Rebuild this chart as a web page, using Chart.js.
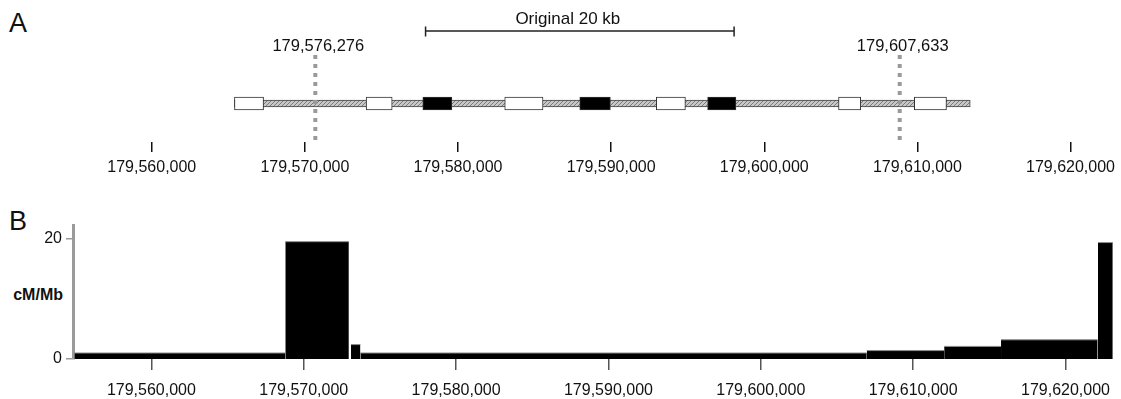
<!DOCTYPE html>
<html>
<head>
<meta charset="utf-8">
<script src="https://cdn.jsdelivr.net/npm/chart.js@4.4.1/dist/chart.umd.min.js"></script>
<style>
  body { margin: 0; background: #fff; }
  #wrap { position: relative; width: 1121px; height: 399px; overflow: hidden;
          font-family: "Liberation Sans", Arial, sans-serif; color: #111; }
  #wrap canvas { position: absolute; left: 0; }
  .panel { position: absolute; left: 9px; font-size: 27px; line-height: 1; }
  #ylab { position: absolute; left: 0; width: 63px; top: 287px; text-align: right;
          font-size: 16px; font-weight: bold; line-height: 1; }
</style>
</head>
<body>
<div id="wrap">
  <div class="panel" style="top:10px">A</div>
  <div class="panel" style="top:208px">B</div>
  <div id="ylab">cM/Mb</div>
  <canvas id="gene" width="1121" height="190" style="top:0"></canvas>
  <canvas id="rate" width="1121" height="199" style="top:200px"></canvas>
</div>
<script>
// shared genomic axis (bp)
var xMin = 179554855;
var xMax = 179623106;
var tickValues = [179560000, 179570000, 179580000, 179590000, 179600000, 179610000, 179620000];

// panel A: gene model
var geneSpan = [179565400, 179613450];
var exonStarts = [179565400, 179574000, 179577700, 179583050, 179587950, 179592950, 179596300, 179604850, 179609800];
var exonEnds   = [179567300, 179575700, 179579600, 179585550, 179589950, 179594850, 179598150, 179606300, 179611900];
var exonCoding = [false, false, true, false, true, false, true, false, false];
var markerPositions = [179570680, 179608845];
var markerLabels = ["179,576,276", "179,607,633"];
var originalRegion = [179577880, 179598030];
var originalLabel = "Original 20 kb";

// panel B: recombination rate (cM/Mb)
var binStarts = [179554950, 179568790, 179573100, 179573720, 179606955, 179612035, 179615767, 179622130];
var binEnds   = [179568790, 179572960, 179573720, 179606955, 179612035, 179615767, 179622110, 179623106];
var rates     = [1.0, 19.55, 2.4, 1.0, 1.4, 2.1, 3.2, 19.4];
var rateTicks = [0, 20];

function fmt(v) { return Number(v).toLocaleString('en-US'); }
function fixedTicks(values) {
    return function (scale) { scale.ticks = values.map(function (v) { return { value: v }; }); };
}

// hatched fill for the intron band
var hatch = document.createElement('canvas');
hatch.width = 4; hatch.height = 4;
var hc = hatch.getContext('2d');
hc.fillStyle = '#c8c8c8'; hc.fillRect(0, 0, 4, 4);
hc.strokeStyle = '#7a7a7a'; hc.lineWidth = 1;
hc.beginPath(); hc.moveTo(0, 4); hc.lineTo(4, 0); hc.stroke();
var geneCanvas = document.getElementById('gene');
var intronPattern = geneCanvas.getContext('2d').createPattern(hatch, 'repeat');

var geneDatasets = exonStarts.map(function (s, i) {
    return {
        data: [[s, exonEnds[i]]],
        backgroundColor: exonCoding[i] ? '#000' : '#fff',
        borderColor: '#333',
        borderWidth: 1,
        borderSkipped: false,
        barThickness: 13,
        grouped: false,
        order: 0
    };
});
geneDatasets.push({
    data: [geneSpan],
    backgroundColor: intronPattern,
    borderColor: '#444',
    borderWidth: 1,
    borderSkipped: false,
    barThickness: 7,
    grouped: false,
    order: 1
});

// breakpoints, their labels and the original 20 kb bracket
var geneAnnotations = {
    id: 'geneAnnotations',
    afterDatasetsDraw: function (chart) {
        var ctx = chart.ctx, x = chart.scales.x;
        ctx.save();
        ctx.strokeStyle = '#9a9a9a';
        ctx.lineWidth = 4;
        ctx.setLineDash([4, 5]);
        markerPositions.forEach(function (p) {
            var px = x.getPixelForValue(p);
            ctx.beginPath(); ctx.moveTo(px, 55); ctx.lineTo(px, 144); ctx.stroke();
        });
        ctx.setLineDash([]);
        ctx.fillStyle = '#111';
        ctx.textAlign = 'center';
        ctx.textBaseline = 'alphabetic';
        ctx.font = '16.5px "Liberation Sans", Arial, sans-serif';
        markerPositions.forEach(function (p, i) {
            ctx.fillText(markerLabels[i], x.getPixelForValue(p) + 3, 51);
        });

        var x1 = x.getPixelForValue(originalRegion[0]);
        var x2 = x.getPixelForValue(originalRegion[1]);
        ctx.strokeStyle = '#222';
        ctx.lineWidth = 1.5;
        ctx.beginPath();
        ctx.moveTo(x1, 31); ctx.lineTo(x2, 31);
        ctx.moveTo(x1, 26.5); ctx.lineTo(x1, 36.5);
        ctx.moveTo(x2, 26.5); ctx.lineTo(x2, 36.5);
        ctx.stroke();
        ctx.font = '17px "Liberation Sans", Arial, sans-serif';
        ctx.fillText(originalLabel, (x1 + x2) / 2 - 12, 24);
        ctx.restore();
    }
};

new Chart(geneCanvas, {
    type: 'bar',
    data: { labels: ['gene'], datasets: geneDatasets },
    options: {
        indexAxis: 'y',
        responsive: false,
        animation: false,
        layout: { padding: { left: 73, top: 65, right: 0, bottom: 0 } },
        plugins: { legend: { display: false }, tooltip: { enabled: false } },
        scales: {
            y: { display: false },
            x: {
                type: 'linear',
                min: xMin,
                max: xMax,
                beginAtZero: false,
                afterBuildTicks: fixedTicks(tickValues),
                afterFit: function (scale) { scale.height = 48; },
                border: { display: false },
                grid: { drawOnChartArea: false, drawTicks: true, tickLength: 10, color: '#111', lineWidth: 1.5 },
                ticks: {
                    autoSkip: false, maxRotation: 0, padding: 6, color: '#111',
                    font: { family: '"Liberation Sans", Arial, sans-serif', size: 16 },
                    callback: fmt
                }
            }
        }
    },
    plugins: [geneAnnotations]
});

var rateDatasets = binStarts.map(function (s, i) {
    return {
        data: [{ x: s, y: rates[i] }, { x: binEnds[i], y: rates[i] }],
        fill: 'origin',
        backgroundColor: '#000',
        borderColor: '#8c8c8c',
        borderWidth: 1,
        pointRadius: 0,
        tension: 0
    };
});

new Chart(document.getElementById('rate'), {
    type: 'line',
    data: { datasets: rateDatasets },
    options: {
        responsive: false,
        animation: false,
        layout: { padding: { left: 0, top: 25, right: 0, bottom: 0 } },
        plugins: { legend: { display: false }, tooltip: { enabled: false } },
        scales: {
            x: {
                type: 'linear',
                min: xMin,
                max: xMax,
                afterBuildTicks: fixedTicks(tickValues),
                afterFit: function (scale) { scale.height = 40; },
                border: { display: false },
                grid: { drawOnChartArea: false, drawTicks: true, tickLength: 11, color: '#555', lineWidth: 1.5 },
                ticks: {
                    autoSkip: false, maxRotation: 0, padding: 11, color: '#111',
                    font: { family: '"Liberation Sans", Arial, sans-serif', size: 16 },
                    callback: fmt
                }
            },
            y: {
                min: 0,
                max: 22.33,
                afterBuildTicks: fixedTicks(rateTicks),
                afterFit: function (scale) { scale.width = 73; },
                border: { display: true, color: '#9a9a9a', width: 3 },
                grid: { drawOnChartArea: false, drawTicks: true, tickLength: 7, color: '#9a9a9a', lineWidth: 1.5 },
                ticks: {
                    padding: 4, color: '#111',
                    font: { family: '"Liberation Sans", Arial, sans-serif', size: 16 }
                }
            }
        }
    }
});
</script>
</body>
</html>
